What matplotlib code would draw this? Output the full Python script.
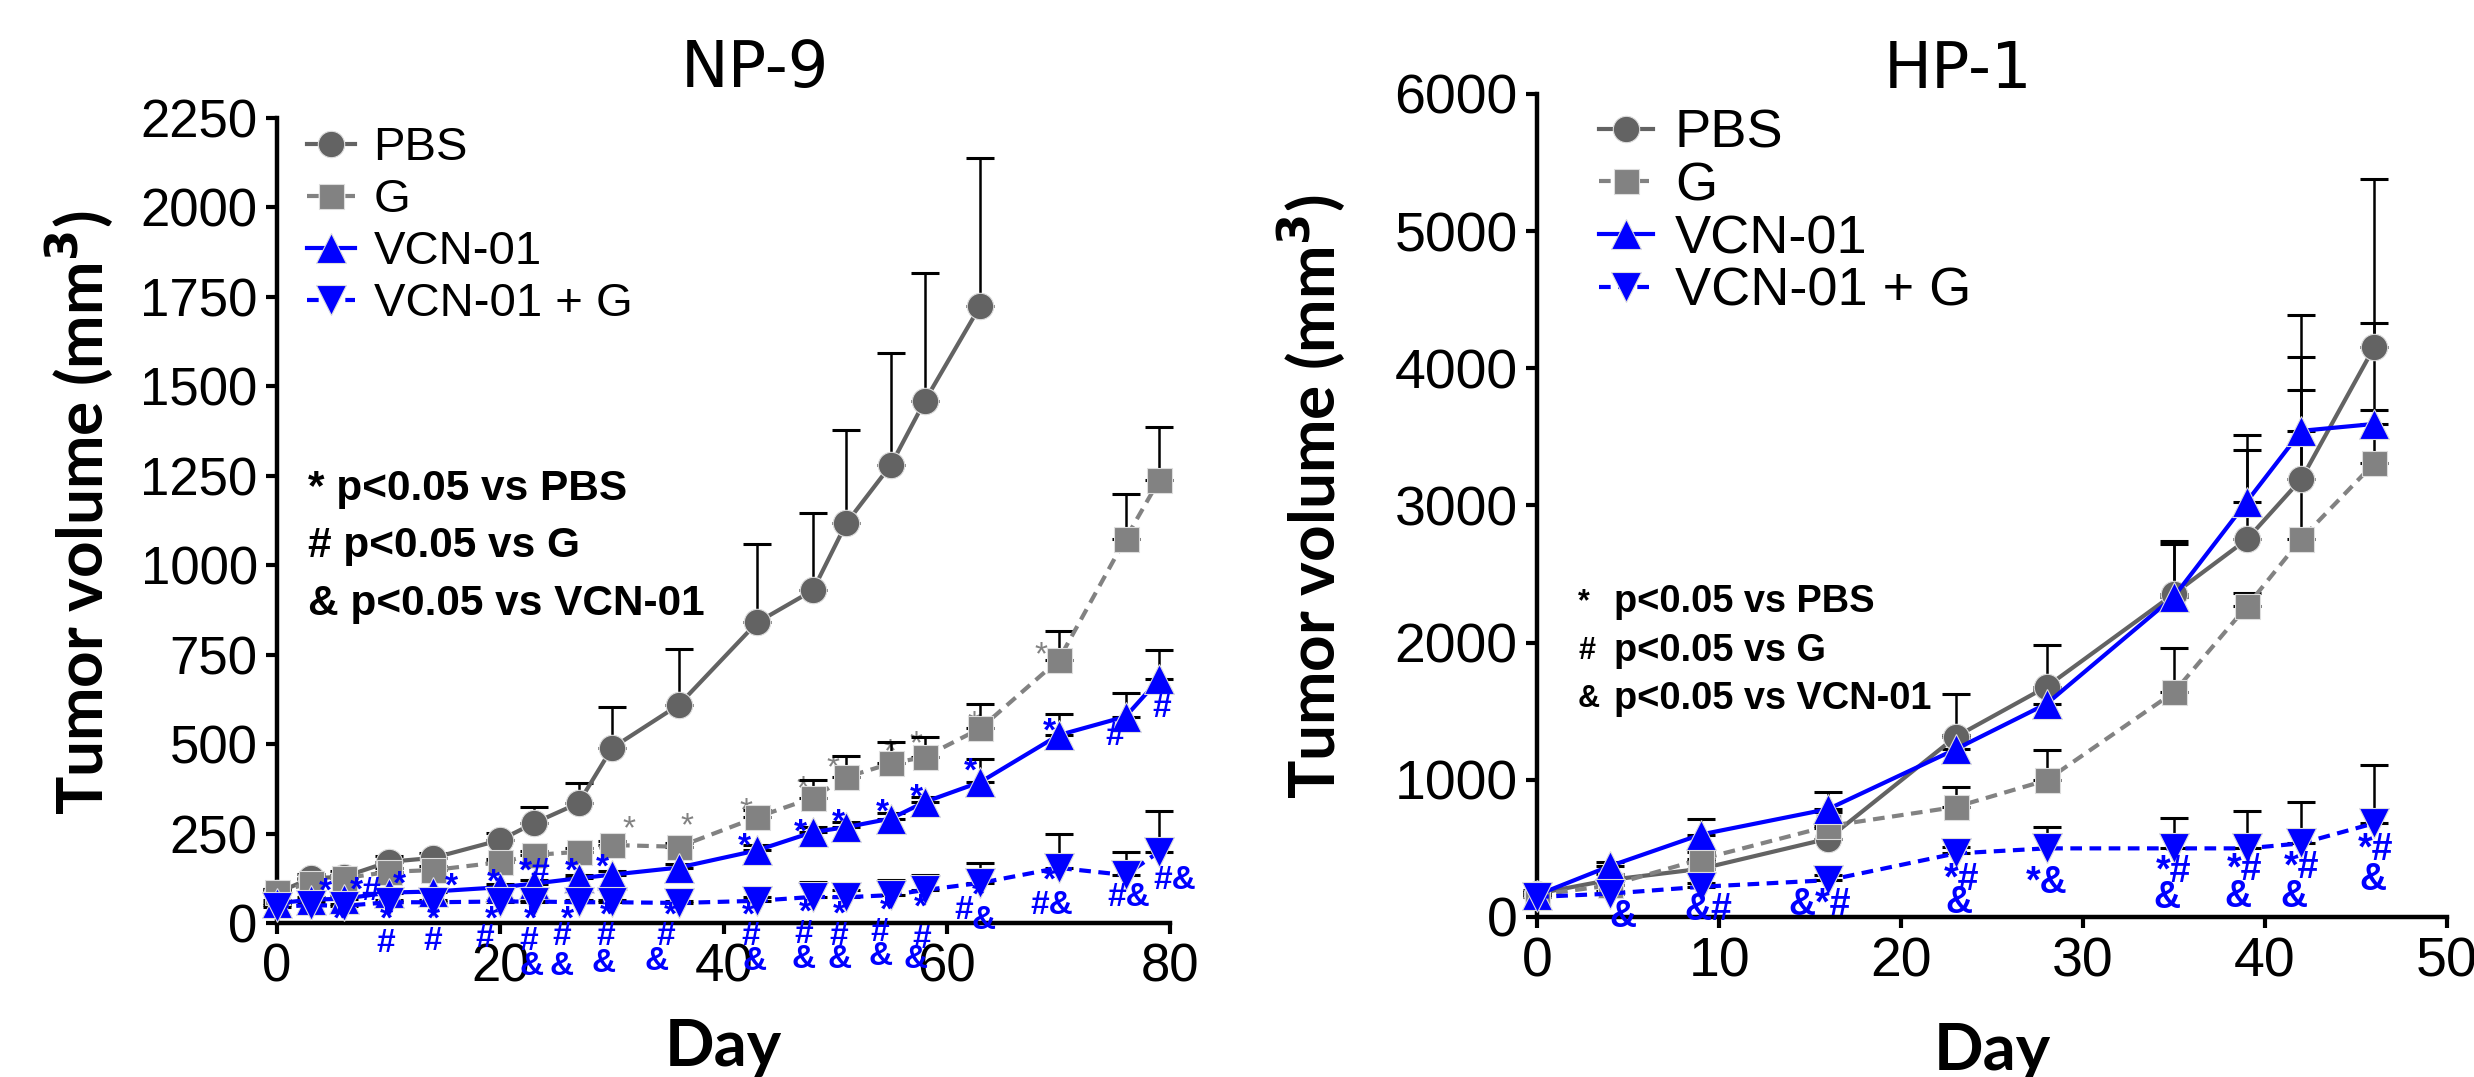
import matplotlib
matplotlib.use("Agg")
import matplotlib.pyplot as plt
import numpy as np

# ---- NP-9 data ----
np9_days = [0, 3, 6, 10, 14, 20, 23, 27, 30, 36, 43, 48, 51, 55, 58, 63, 70, 76, 79]
np9_pbs = [84, 125, 129, 171, 182, 232, 279, 335, 489, 610, 840, 930, 1118, 1281, 1458, 1726]
np9_pbs_sem = [10, 12, 15, 15, 15, 20, 46, 57, 115, 155, 219, 217, 261, 311, 360, 413]
np9_g = [86, 112, 125, 143, 148, 170, 190, 199, 218, 213, 296, 350, 408, 446, 464, 544, 735, 1074, 1237]
np9_g_sem = [10, 10, 10, 10, 10, 10, 10, 10, 10, 10, 20, 51, 58, 60, 56, 67, 80, 125, 150]
np9_vcn = [55, 65, 68, 85, 88, 100, 110, 125, 135, 155, 203, 254, 268, 292, 338, 394, 525, 577, 681]
np9_vcn_sem = [8, 8, 8, 8, 8, 10, 10, 10, 10, 10, 15, 15, 15, 15, 15, 64, 58, 66, 83]
np9_combo = [45, 50, 48, 58, 58, 60, 60, 58, 58, 56, 62, 73, 72, 78, 92, 112, 154, 134, 199]
np9_combo_sem = [5, 5, 5, 5, 5, 5, 5, 5, 5, 5, 10, 42, 20, 42, 42, 56, 95, 65, 115]

# significance marks: day, volume, text
np9_ann_x = [4.3, 5.6, 7.9, 11.0, 9.8, 9.7, 15.6, 14.0, 13.9, 19.4, 19.2, 18.6,
             23.1, 22.7, 22.5, 22.8, 26.4, 26.0, 25.5, 25.5, 29.1, 29.5, 29.4, 29.2,
             35.2, 34.8, 34.0, 41.9, 46.9, 50.3, 54.2, 57.3, 62.1, 69.2, 75.0, 79.2,
             42.2, 42.4, 42.8, 47.3, 47.2, 47.2, 50.4, 50.3, 50.4, 54.6, 54.0, 54.1,
             57.6, 57.7, 57.2, 62.8, 61.5, 63.3, 69.2, 69.4, 76.3, 80.4]
np9_ann_y = [87, 8, 87, 106, 8, -56, 101, 8, -52, 112, 8, -42,
             140, 8, -52, -122, 143, 8, -38, -122, 153, 18, -38, -113,
             18, -38, -108, 213, 251, 279, 307, 349, 423, 535, 521, 600,
             18, -38, -108, 27, -33, -103, 22, -38, -103, 32, -27, -94,
             41, -47, -103, 74, 36, 8, 116, 50, 70, 120]
np9_ann_txt = ['*', '*', '*#', '*', '*', '#', '*', '*', '#', '*', '*', '#',
               '*#', '*', '#', '&', '*', '*', '#', '&', '*', '*', '#', '&',
               '*', '#', '&', '*', '*', '*', '*', '*', '*', '*', '#', '#',
               '*', '#', '&', '*', '#', '&', '*', '#', '&', '*', '#', '&',
               '*', '#', '&', '*', '#', '&', '*', '#&', '#&', '#&']
np9_g_ann_x = [31.5, 36.7, 42.0, 47.1, 49.8, 54.9, 57.2, 62.4, 68.4]
np9_g_ann_y = [260, 269, 311, 372, 432, 475, 497, 554, 746]

# ---- HP-1 data ----
hp1_days = [0, 4, 9, 16, 23, 28, 35, 39, 42, 46]
hp1_pbs = [170, 270, 351, 571, 1313, 1679, 2356, 2752, 3193, 4155]
hp1_pbs_sem = [30, 40, 60, 80, 316, 301, 366, 651, 1193, 1223]
hp1_g = [160, 230, 421, 662, 802, 997, 1639, 2265, 2757, 3308]
hp1_g_sem = [20, 30, 50, 106, 145, 223, 324, 100, 1323, 1023]
hp1_vcn = [160, 371, 601, 787, 1223, 1554, 2336, 3028, 3544, 3594]
hp1_vcn_sem = [20, 30, 111, 123, 100, 100, 403, 486, 300, 100]
hp1_combo = [146, 170, 220, 268, 463, 500, 500, 500, 537, 683]
hp1_combo_sem = [20, 20, 30, 40, 50, 154, 224, 273, 300, 427]

hp1_ann_x = [4.7, 9.4, 15.5, 23.3, 23.2, 28.0, 35.0, 34.6, 38.9, 38.5, 42.0, 41.6, 46.1, 45.9]
hp1_ann_y = [2, 51, 87, 270, 102, 248, 330, 138, 343, 148, 357, 148, 488, 270]
hp1_ann_txt = ['&', '&#', '&*#', '*#', '&', '*&', '*#', '&', '*#', '&', '*#', '&', '*#', '&']

labels = ['PBS', 'G', 'VCN-01', 'VCN-01 + G']
stats_lines = [('*', 'p<0.05 vs PBS'), ('#', 'p<0.05 vs G'), ('&', 'p<0.05 vs VCN-01')]

DARK = '#636363'
GREY = '#828282'
BLUE = '#0000ff'
SANS = ['Liberation Sans', 'DejaVu Sans']
LABF = ['Lato', 'DejaVu Sans']

fig = plt.figure(figsize=(24.74, 10.77), dpi=100)
ax1 = fig.add_axes([0.1120, 0.1430, 0.3610, 0.7474])
ax2 = fig.add_axes([0.6213, 0.1486, 0.3678, 0.7642])


def draw_series(ax, x, y, sem, color, ls, marker, label, ms=19):
    x = x[:len(y)]
    ax.errorbar(x, y, yerr=[np.zeros(len(sem)), sem], fmt='none', ecolor='black',
                elinewidth=1.8, capsize=10, capthick=2.2, zorder=2, clip_on=False)
    ax.plot(x, y, color=color, ls=ls, lw=3, marker=marker, ms=ms, mfc=color,
            mec='#dddddd', mew=0.8, label=label, zorder=3, clip_on=False,
            dashes=(2.8, 1.8) if ls == '--' else (None, None))


def style_axes(ax, tick_size, lab_size, leg_size, leg_space, leg_anchor, ylab_x, xlab_y):
    for s in ['top', 'right']:
        ax.spines[s].set_visible(False)
    for s in ['left', 'bottom']:
        ax.spines[s].set_linewidth(3.2)
    ax.tick_params(direction='out', length=8, width=3, pad=6)
    for lab in ax.get_xticklabels() + ax.get_yticklabels():
        lab.set_family(SANS)
        lab.set_fontsize(tick_size)
    ax.set_xlabel('Day', fontsize=47, fontweight='bold', family=LABF)
    ax.set_ylabel('Tumor volume (mm$^\\mathbf{3}$)', fontsize=lab_size, fontweight='bold',
                  family=LABF)
    ax.yaxis.set_label_coords(ylab_x, 0.51)
    ax.xaxis.set_label_coords(0.5, xlab_y)
    leg = ax.legend(loc='upper left', frameon=False, fontsize=leg_size,
                    handlelength=1.0, handletextpad=0.4, labelspacing=leg_space,
                    borderpad=0, borderaxespad=0, bbox_to_anchor=leg_anchor)
    for t in leg.get_texts():
        t.set_family(SANS)


# ---------------- NP-9 ----------------
draw_series(ax1, np9_days, np9_pbs, np9_pbs_sem, DARK, '-', 'o', labels[0])
draw_series(ax1, np9_days, np9_g, np9_g_sem, GREY, '--', 's', labels[1], ms=18)
draw_series(ax1, np9_days, np9_vcn, np9_vcn_sem, BLUE, '-', '^', labels[2], ms=22)
draw_series(ax1, np9_days, np9_combo, np9_combo_sem, BLUE, '--', 'v', labels[3], ms=22)
ax1.set_xlim(0, 80)
ax1.set_ylim(0, 2250)
ax1.set_xticks([0, 20, 40, 60, 80])
ax1.set_yticks(np.arange(0, 2251, 250))
style_axes(ax1, 38, 46, 34, 0.17, (0.034, 0.99), -0.18, -0.118)

for x, y, t in zip(np9_ann_x, np9_ann_y, np9_ann_txt):
    ax1.text(x, y, t, color=BLUE, fontsize=24, fontweight='bold', family=SANS,
             ha='center', va='center', zorder=4)
for x, y in zip(np9_g_ann_x, np9_g_ann_y):
    ax1.text(x, y, '*', color=GREY, fontsize=24, family=SANS,
             ha='center', va='center', zorder=1)

for i, (sym, t) in enumerate(stats_lines):
    ax1.text(2.8, 1213 - i * 160, sym + ' ' + t, fontsize=30.5, fontweight='bold',
             family=SANS, ha='left', va='center')

# ---------------- HP-1 ----------------
draw_series(ax2, hp1_days, hp1_pbs, hp1_pbs_sem, DARK, '-', 'o', labels[0])
draw_series(ax2, hp1_days, hp1_g, hp1_g_sem, GREY, '--', 's', labels[1], ms=18)
draw_series(ax2, hp1_days, hp1_vcn, hp1_vcn_sem, BLUE, '-', '^', labels[2], ms=22)
draw_series(ax2, hp1_days, hp1_combo, hp1_combo_sem, BLUE, '--', 'v', labels[3], ms=22)
ax2.set_xlim(0, 50)
ax2.set_ylim(0, 6000)
ax2.set_xticks([0, 10, 20, 30, 40, 50])
ax2.set_yticks(np.arange(0, 6001, 1000))
style_axes(ax2, 40, 46, 39, 0.05, (0.068, 0.982), -0.208, -0.128)

for x, y, t in zip(hp1_ann_x, hp1_ann_y, hp1_ann_txt):
    ax2.text(x, y, t, color=BLUE, fontsize=27, fontweight='bold', family=SANS,
             ha='center', va='center', zorder=4)

for i, (sym, t) in enumerate(stats_lines):
    ax2.text(2.25, 2296 - i * 354, sym, fontsize=22, fontweight='bold', family=SANS,
             ha='left', va='center')
    ax2.text(4.2, 2296 - i * 354, t, fontsize=27.4, fontweight='bold', family=SANS,
             ha='left', va='center')

fig.text(755 / 2474, 1 - 69 / 1077, 'NP-9', fontsize=46, family='DejaVu Sans',
         ha='center', va='center')
fig.text(1958 / 2474, 1 - 70 / 1077, 'HP-1', fontsize=46, family='DejaVu Sans',
         ha='center', va='center')

fig.savefig('out.png', dpi=100)
